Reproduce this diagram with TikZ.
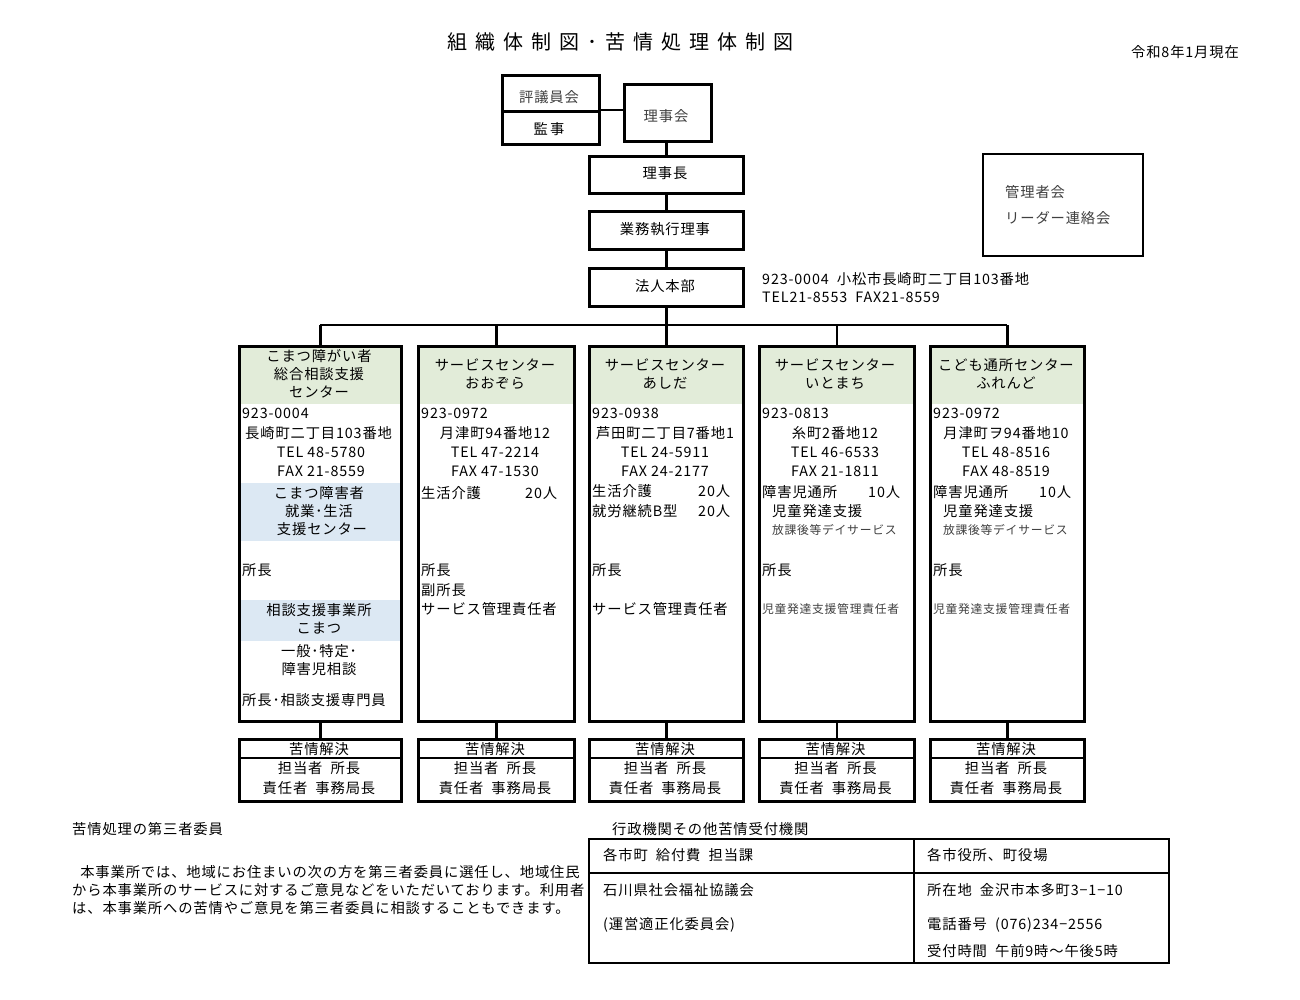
\documentclass[tikz,border=0pt]{standalone}
\usepackage{fontspec}
\setmainfont{Noto Sans CJK JP}[LetterSpace=6]
\definecolor{hdr}{HTML}{E2ECD9}
\definecolor{band}{HTML}{DCE8F3}
\begin{document}
\begin{tikzpicture}[x=1pt,y=-1pt,
  bx/.style={draw,line width=2.6pt,inner sep=0pt},
  ln/.style={line width=2.6pt},
  t/.style={inner sep=0pt,font=\fontsize{14.3}{16}\selectfont},
  tl/.style={t,anchor=west},
  ts/.style={inner sep=0pt,anchor=west,font=\fontsize{11.8}{13}\selectfont,text=black!75}]
\useasboundingbox (0,0) rectangle (1300,1000);
\fill[white] (0,0) rectangle (1300,1000);
\node[inner sep=0pt,font=\fontsize{20}{22}\selectfont\addfontfeatures{LetterSpace=40}] (title) at (620,42) {組織体制図･苦情処理体制図};
\node[t] (date) at (1185,52) {令和8年1月現在};
% top
\node[bx,minimum width=97pt,minimum height=36pt,anchor=north west] (hyo) at (501,74) {};
\node[t,text=black!75] at (549,97) {評議員会};
\node[bx,minimum width=97pt,minimum height=33pt,anchor=north west] (kan) at (501,110) {};
\node[t] at (549,129) {監\,事};
\node[bx,minimum width=87pt,minimum height=57pt,anchor=north west] (riji) at (623,83) {};
\node[t,text=black!75] at (666,116) {理事会};
\draw[ln] (598,110) -- (riji.west |- 0,110);
\node[bx,minimum width=154pt,minimum height=37pt,anchor=north west] (cho) at (588,155) {};
\node[t] at (665,173) {理事長};
\node[bx,minimum width=154pt,minimum height=38pt,anchor=north west] (gyo) at (588,210) {};
\node[t] at (665,229) {業務執行理事};
\node[bx,minimum width=154pt,minimum height=38pt,anchor=north west] (hon) at (588,267) {};
\node[t] at (665,286) {法人本部};
\draw[ln] (riji.south -| cho.north) -- (cho.north);
\draw[ln] (cho.south) -- (gyo.north);
\draw[ln] (gyo.south) -- (hon.north);
\node[tl] at (762,279) {923-0004\ \ 小松市長崎町二丁目103番地};
\node[tl] at (762,297) {TEL21-8553\ \ FAX21-8559};
\node[draw,line width=2pt,minimum width=160pt,minimum height=102pt,anchor=north west] (kanri) at (982,153) {};
\node[tl,text=black!75] at (1005,192) {管理者会};
\node[tl,text=black!75] at (1005,218) {リーダー連絡会};
% columns
\foreach \n/\a/\b in {c1/238/400,c2/417/573,c3/588/742,c4/758/913,c5/929/1083}{
  \fill[hdr] (\a,346) rectangle (\b,404);
}
\fill[band] (238,483) rectangle (400,541);
\fill[band] (238,600) rectangle (400,641);
\foreach \n/\a/\b in {c1/238/400,c2/417/573,c3/588/742,c4/758/913,c5/929/1083}{
  \node[bx,minimum width={\b-\a},minimum height=375pt,anchor=north west] (\n) at (\a,345) {};
  \node[bx,minimum width={\b-\a},minimum height=62pt,anchor=north west] (k\n) at (\a,738) {};
  \draw[line width=1.6pt] (\a,758) -- (\b,758);
  \node[t] at ({(\a+\b)/2},749) {苦情解決};
  \node[t] at ({(\a+\b)/2},768) {担当者\ \ 所長};
  \node[t] at ({(\a+\b)/2},788) {責任者\ \ 事務局長};
  \draw[ln] (\n.south) -- (k\n.north);
}
\coordinate (busL) at (c1.north |- 0,325);
\coordinate (busR) at (c5.north |- 0,325);
\draw[ln] (hon.south) -- (hon.south |- busL);
\draw[ln] (busL) -- (busR);
\foreach \n in {c1,c2,c3,c4,c5}{\draw[ln] (\n.north |- busL) -- (\n.north);}
% col1
\node[t] at (319,356) {こまつ障がい者};
\node[t] at (319,374) {総合相談支援};
\node[t] at (319,392) {センター};
\node[tl] at (242,413) {923-0004};
\node[tl] at (245,433) {長崎町二丁目103番地};
\node[t] at (321,452) {TEL 48-5780};
\node[t] at (321,471) {FAX 21-8559};
\node[t] at (319,493) {こまつ障害者};
\node[t] at (319,511) {就業･生活};
\node[t] at (322,529) {支援センター};
\node[tl] at (242,570) {所長};
\node[t] at (319,610) {相談支援事業所};
\node[t] at (319,628) {こまつ};
\node[t] at (319,651) {一般･特定･};
\node[t] at (319,669) {障害児相談};
\node[tl] at (242,700) {所長･相談支援専門員};
% col2
\node[t] at (495,365) {サービスセンター};
\node[t] at (495,383) {おおぞら};
\node[tl] at (421,413) {923-0972};
\node[t] at (495,433) {月津町94番地12};
\node[t] at (495,452) {TEL 47-2214};
\node[t] at (495,471) {FAX 47-1530};
\node[tl] at (421,493) {生活介護};
\node[tl] at (525,493) {20人};
\node[tl] at (421,570) {所長};
\node[tl] at (421,590) {副所長};
\node[tl] at (421,609) {サービス管理責任者};
% col3
\node[t] at (665,365) {サービスセンター};
\node[t] at (665,383) {あしだ};
\node[tl] at (592,413) {923-0938};
\node[t] at (665,433) {芦田町二丁目7番地1};
\node[t] at (665,452) {TEL 24-5911};
\node[t] at (665,471) {FAX 24-2177};
\node[tl] at (592,491) {生活介護};
\node[tl] at (698,491) {20人};
\node[tl] at (592,511) {就労継続B型};
\node[tl] at (698,511) {20人};
\node[tl] at (592,570) {所長};
\node[tl] at (592,609) {サービス管理責任者};
% col4
\node[t] at (835,365) {サービスセンター};
\node[t] at (835,383) {いとまち};
\node[tl] at (762,413) {923-0813};
\node[t] at (835,433) {糸町2番地12};
\node[t] at (835,452) {TEL 46-6533};
\node[t] at (835,471) {FAX 21-1811};
\node[tl] at (762,492) {障害児通所};
\node[tl] at (868,492) {10人};
\node[tl] at (772,511) {児童発達支援};
\node[ts] at (772,530) {放課後等デイサービス};
\node[tl] at (762,570) {所長};
\node[ts] at (762,609) {児童発達支援管理責任者};
% col5
\node[t] at (1006,365) {こども通所センター};
\node[t] at (1006,383) {ふれんど};
\node[tl] at (933,413) {923-0972};
\node[t] at (1006,433) {月津町ヲ94番地10};
\node[t] at (1006,452) {TEL 48-8516};
\node[t] at (1006,471) {FAX 48-8519};
\node[tl] at (933,492) {障害児通所};
\node[tl] at (1039,492) {10人};
\node[tl] at (943,511) {児童発達支援};
\node[ts] at (943,530) {放課後等デイサービス};
\node[tl] at (933,570) {所長};
\node[ts] at (933,609) {児童発達支援管理責任者};
% bottom left
\node[tl] at (72,829) {苦情処理の第三者委員};
\node[tl] at (72,872) {\ \ 本事業所では、地域にお住まいの次の方を第三者委員に選任し、地域住民};
\node[tl] at (72,890) {から本事業所のサービスに対するご意見などをいただいております。利用者};
\node[tl] at (72,908) {は、本事業所への苦情やご意見を第三者委員に相談することもできます。};
% table
\node[tl] at (612,829) {行政機関その他苦情受付機関};
\node[draw,line width=2pt,minimum width=580pt,minimum height=124pt,anchor=north west] (tab) at (588,838) {};
\draw[line width=2pt] (588,873) -- (1168,873);
\draw[line width=1.5pt] (914,838) -- (914,962);
\node[tl] at (603,855) {各市町\ \ 給付費\ \ 担当課};
\node[tl] at (927,855) {各市役所、町役場};
\node[tl] at (603,890) {石川県社会福祉協議会};
\node[tl] at (603,925) {(運営適正化委員会)};
\node[tl] at (927,890) {所在地\ \ 金沢市本多町3−1−10};
\node[tl] at (927,925) {電話番号\ \ (076)234−2556};
\node[tl] at (927,951) {受付時間\ \ 午前9時～午後5時};
\end{tikzpicture}
\end{document}
